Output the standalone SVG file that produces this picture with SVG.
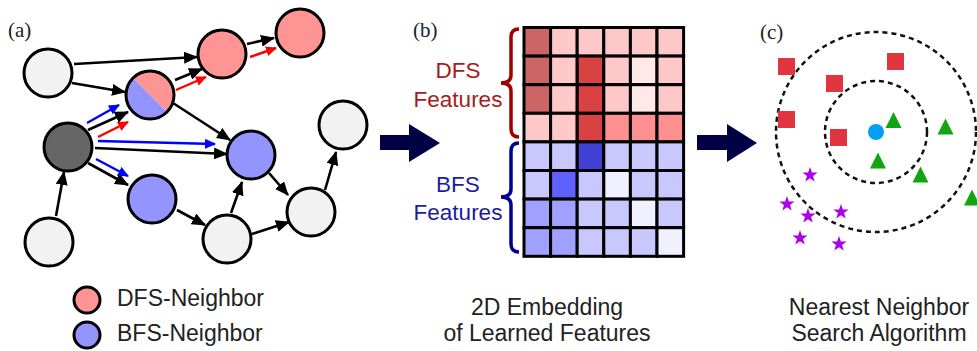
<svg xmlns="http://www.w3.org/2000/svg" width="977" height="351" viewBox="0 0 977 351">
<style>
.nd{stroke:#000;stroke-width:3}
.w{fill:#f2f2f2}.dk{fill:#666}.pk{fill:#ff9494}.bl{fill:#9494ff}
.e{stroke:#000;stroke-width:2.6;fill:none}
.eb{stroke:#0000ff;stroke-width:2.4;fill:none}
.er{stroke:#ff0000;stroke-width:2.4;fill:none}
.lbl{font-family:"Liberation Serif",serif;font-size:21px;fill:#222}
.t{font-family:"Liberation Sans",Arial,sans-serif;font-size:23px;fill:#222;text-anchor:middle}
.cell{stroke:#000;stroke-width:3}
.sq{fill:#e0353f}.tri{fill:#12a512}.st{fill:#aa00ee}
.dash{fill:none;stroke:#111;stroke-width:2.5;stroke-dasharray:5 4}
</style>
<defs>
<marker id="ak" markerUnits="userSpaceOnUse" markerWidth="14" markerHeight="12" refX="13" refY="6" orient="auto"><path d="M0,0 L14,6 L0,12 z" fill="#000"/></marker>
<marker id="ab" markerUnits="userSpaceOnUse" markerWidth="11" markerHeight="10" refX="10" refY="5" orient="auto"><path d="M0,0 L11,5 L0,10 z" fill="#0000ff"/></marker>
<marker id="ar" markerUnits="userSpaceOnUse" markerWidth="11" markerHeight="10" refX="10" refY="5" orient="auto"><path d="M0,0 L11,5 L0,10 z" fill="#ff0000"/></marker>
<path id="star" d="M0,-8 L1.9,-2.6 L7.6,-2.5 L3.05,1 L4.7,6.5 L0,3.2 L-4.7,6.5 L-3.05,1 L-7.6,-2.5 L-1.9,-2.6 Z"/>
<path id="tri" d="M0,0 L8,16 L-8,16 Z"/>
</defs>

<text class="lbl" x="8" y="37">(a)</text>
<text class="lbl" x="413" y="37">(b)</text>
<text class="lbl" x="760" y="39">(c)</text>

<g id="connectors">
<line class="e" x1="74" y1="64" x2="197" y2="57" marker-end="url(#ak)"/>
<line class="e" x1="72" y1="83" x2="125" y2="92" marker-end="url(#ak)"/>
<line class="e" x1="175" y1="80" x2="202" y2="69" marker-end="url(#ak)"/>
<line class="er" x1="176" y1="90" x2="206" y2="77" marker-end="url(#ar)"/>
<line class="e" x1="247" y1="44" x2="274" y2="38" marker-end="url(#ak)"/>
<line class="er" x1="250" y1="57" x2="276" y2="48" marker-end="url(#ar)"/>
<line class="e" x1="173" y1="103" x2="230" y2="140" marker-end="url(#ak)"/>
<line class="e" x1="88" y1="130" x2="128" y2="112" marker-end="url(#ak)"/>
<line class="eb" x1="87" y1="123" x2="119" y2="105" marker-end="url(#ab)"/>
<line class="er" x1="98" y1="137" x2="128" y2="122" marker-end="url(#ar)"/>
<line class="e" x1="95" y1="148" x2="227" y2="154" marker-end="url(#ak)"/>
<line class="eb" x1="98" y1="141" x2="215" y2="144" marker-end="url(#ab)"/>
<line class="e" x1="88" y1="163" x2="128" y2="185" marker-end="url(#ak)"/>
<line class="eb" x1="96" y1="159" x2="128" y2="176" marker-end="url(#ab)"/>
<line class="e" x1="56" y1="216" x2="64" y2="172" marker-end="url(#ak)"/>
<line class="e" x1="177" y1="210" x2="205" y2="225" marker-end="url(#ak)"/>
<line class="e" x1="231" y1="213" x2="242" y2="182" marker-end="url(#ak)"/>
<line class="e" x1="269" y1="173" x2="288" y2="195" marker-end="url(#ak)"/>
<line class="e" x1="252" y1="234" x2="289" y2="222" marker-end="url(#ak)"/>
<line class="e" x1="325" y1="190" x2="336" y2="152" marker-end="url(#ak)"/>
</g>

<g id="nA"><circle class="nd w" cx="48" cy="73" r="24"/></g>
<g id="nB">
<path d="M133,78 A24,24 0 0 1 167,112 Z" fill="#ff9494"/>
<path d="M167,112 A24,24 0 0 1 133,78 Z" fill="#9494ff"/>
<circle cx="150" cy="95" r="24" fill="none" stroke="#000" stroke-width="3"/>
</g>
<g id="nC"><circle class="nd pk" cx="222" cy="54" r="24"/></g>
<g id="nD"><circle class="nd pk" cx="300" cy="33" r="24"/></g>
<g id="nE"><circle class="nd dk" cx="68" cy="147" r="24"/></g>
<g id="nF"><circle class="nd bl" cx="251" cy="155" r="24"/></g>
<g id="nG"><circle class="nd bl" cx="152" cy="199" r="24"/></g>
<g id="nH"><circle class="nd w" cx="49" cy="242" r="24"/></g>
<g id="nI"><circle class="nd w" cx="227" cy="239" r="24"/></g>
<g id="nJ"><circle class="nd w" cx="311" cy="212" r="24"/></g>
<g id="nK"><circle class="nd w" cx="343" cy="125" r="24"/></g>

<g id="legend">
<circle class="nd pk" cx="87" cy="300" r="13"/>
<text x="117" y="306" font-family="Liberation Sans, Arial, sans-serif" font-size="23" fill="#222">DFS-Neighbor</text>
<circle class="nd bl" cx="87" cy="335" r="13"/>
<text x="117" y="341" font-family="Liberation Sans, Arial, sans-serif" font-size="23" fill="#222">BFS-Neighbor</text>
</g>

<g id="arrow1"><polygon points="380,135 409,135 409,124 440,143 409,162 409,150 380,150" fill="#000045"/></g>
<g id="arrow2"><polygon points="697,135 727,135 727,124 757,143 727,162 727,150 697,150" fill="#000045"/></g>

<g id="matrix">
<rect class="cell" x="524" y="27.5" width="26.6" height="28.6" fill="#cc6666"/>
<rect class="cell" x="550.6" y="27.5" width="26.6" height="28.6" fill="#ffc8c8"/>
<rect class="cell" x="577.2" y="27.5" width="26.6" height="28.6" fill="#ffc8c8"/>
<rect class="cell" x="603.8" y="27.5" width="26.6" height="28.6" fill="#ffc8c8"/>
<rect class="cell" x="630.4" y="27.5" width="26.6" height="28.6" fill="#ffc8c8"/>
<rect class="cell" x="657" y="27.5" width="26.6" height="28.6" fill="#ffc8c8"/>

<rect class="cell" x="524" y="56.1" width="26.6" height="28.6" fill="#cc6666"/>
<rect class="cell" x="550.6" y="56.1" width="26.6" height="28.6" fill="#ffc8c8"/>
<rect class="cell" x="577.2" y="56.1" width="26.6" height="28.6" fill="#d94242"/>
<rect class="cell" x="603.8" y="56.1" width="26.6" height="28.6" fill="#ffc8c8"/>
<rect class="cell" x="630.4" y="56.1" width="26.6" height="28.6" fill="#ffe8e8"/>
<rect class="cell" x="657" y="56.1" width="26.6" height="28.6" fill="#ffc8c8"/>

<rect class="cell" x="524" y="84.7" width="26.6" height="28.6" fill="#cc6666"/>
<rect class="cell" x="550.6" y="84.7" width="26.6" height="28.6" fill="#ffc8c8"/>
<rect class="cell" x="577.2" y="84.7" width="26.6" height="28.6" fill="#d94242"/>
<rect class="cell" x="603.8" y="84.7" width="26.6" height="28.6" fill="#ffc8c8"/>
<rect class="cell" x="630.4" y="84.7" width="26.6" height="28.6" fill="#ffe8e8"/>
<rect class="cell" x="657" y="84.7" width="26.6" height="28.6" fill="#ffc8c8"/>

<rect class="cell" x="524" y="113.3" width="26.6" height="28.6" fill="#ffc8c8"/>
<rect class="cell" x="550.6" y="113.3" width="26.6" height="28.6" fill="#ffc8c8"/>
<rect class="cell" x="577.2" y="113.3" width="26.6" height="28.6" fill="#d94242"/>
<rect class="cell" x="603.8" y="113.3" width="26.6" height="28.6" fill="#ff9090"/>
<rect class="cell" x="630.4" y="113.3" width="26.6" height="28.6" fill="#ff9090"/>
<rect class="cell" x="657" y="113.3" width="26.6" height="28.6" fill="#ff9090"/>

<rect class="cell" x="524" y="141.9" width="26.6" height="28.6" fill="#c8c8ff"/>
<rect class="cell" x="550.6" y="141.9" width="26.6" height="28.6" fill="#c8c8ff"/>
<rect class="cell" x="577.2" y="141.9" width="26.6" height="28.6" fill="#4040d4"/>
<rect class="cell" x="603.8" y="141.9" width="26.6" height="28.6" fill="#c8c8ff"/>
<rect class="cell" x="630.4" y="141.9" width="26.6" height="28.6" fill="#c8c8ff"/>
<rect class="cell" x="657" y="141.9" width="26.6" height="28.6" fill="#c8c8ff"/>

<rect class="cell" x="524" y="170.5" width="26.6" height="28.6" fill="#c8c8ff"/>
<rect class="cell" x="550.6" y="170.5" width="26.6" height="28.6" fill="#6060ff"/>
<rect class="cell" x="577.2" y="170.5" width="26.6" height="28.6" fill="#c8c8ff"/>
<rect class="cell" x="603.8" y="170.5" width="26.6" height="28.6" fill="#f0f0ff"/>
<rect class="cell" x="630.4" y="170.5" width="26.6" height="28.6" fill="#c8c8ff"/>
<rect class="cell" x="657" y="170.5" width="26.6" height="28.6" fill="#c8c8ff"/>

<rect class="cell" x="524" y="199.1" width="26.6" height="28.6" fill="#a0a0ff"/>
<rect class="cell" x="550.6" y="199.1" width="26.6" height="28.6" fill="#a0a0ff"/>
<rect class="cell" x="577.2" y="199.1" width="26.6" height="28.6" fill="#c8c8ff"/>
<rect class="cell" x="603.8" y="199.1" width="26.6" height="28.6" fill="#c8c8ff"/>
<rect class="cell" x="630.4" y="199.1" width="26.6" height="28.6" fill="#f0f0ff"/>
<rect class="cell" x="657" y="199.1" width="26.6" height="28.6" fill="#c8c8ff"/>

<rect class="cell" x="524" y="227.7" width="26.6" height="28.6" fill="#a0a0ff"/>
<rect class="cell" x="550.6" y="227.7" width="26.6" height="28.6" fill="#a0a0ff"/>
<rect class="cell" x="577.2" y="227.7" width="26.6" height="28.6" fill="#c8c8ff"/>
<rect class="cell" x="603.8" y="227.7" width="26.6" height="28.6" fill="#c8c8ff"/>
<rect class="cell" x="630.4" y="227.7" width="26.6" height="28.6" fill="#c8c8ff"/>
<rect class="cell" x="657" y="227.7" width="26.6" height="28.6" fill="#f0f0ff"/>
</g>

<g id="dfs-brace">
<path d="M519,29 Q511,29 511,37 L511,75 Q511,83 501,83 Q511,83 511,91 L511,129 Q511,137 519,137" fill="none" stroke="#a00000" stroke-width="3.5"/>
<text x="458" y="78" font-family="Liberation Sans, Arial, sans-serif" font-size="22.5" fill="#a51c1c" text-anchor="middle">DFS</text>
<text x="458" y="107" font-family="Liberation Sans, Arial, sans-serif" font-size="22.5" fill="#a51c1c" text-anchor="middle">Features</text>
</g>
<g id="bfs-brace">
<path d="M519,143 Q511,143 511,151 L511,189 Q511,197 501,197 Q511,197 511,205 L511,244 Q511,252 519,252" fill="none" stroke="#000090" stroke-width="3.5"/>
<text x="458" y="192" font-family="Liberation Sans, Arial, sans-serif" font-size="22.5" fill="#1c1c9c" text-anchor="middle">BFS</text>
<text x="458" y="220" font-family="Liberation Sans, Arial, sans-serif" font-size="22.5" fill="#1c1c9c" text-anchor="middle">Features</text>
</g>

<g id="caption-b">
<text class="t" x="547" y="315">2D Embedding</text>
<text class="t" x="547" y="341">of Learned Features</text>
</g>

<g id="knn">
<circle class="dash" cx="876" cy="132" r="100"/>
<circle class="dash" cx="876" cy="132" r="51"/>
<circle cx="876" cy="132" r="8" fill="#00a0f0"/>
<rect class="sq" x="778" y="58" width="17" height="17"/>
<rect class="sq" x="887" y="53" width="17" height="17"/>
<rect class="sq" x="826" y="75" width="17" height="17"/>
<rect class="sq" x="778" y="111" width="17" height="17"/>
<rect class="sq" x="830" y="129" width="17" height="17"/>
<use href="#tri" class="tri" x="893.5" y="112"/>
<use href="#tri" class="tri" x="945.5" y="118.5"/>
<use href="#tri" class="tri" x="878" y="152.5"/>
<use href="#tri" class="tri" x="920.5" y="166.5"/>
<use href="#tri" class="tri" x="972" y="189.5"/>
<use href="#star" class="st" x="810" y="175"/>
<use href="#star" class="st" x="787" y="204"/>
<use href="#star" class="st" x="808" y="216"/>
<use href="#star" class="st" x="841" y="212"/>
<use href="#star" class="st" x="800" y="238"/>
<use href="#star" class="st" x="839" y="244"/>
</g>

<g id="caption-c">
<text class="t" x="879" y="315">Nearest Neighbor</text>
<text class="t" x="879" y="341">Search Algorithm</text>
</g>
</svg>
